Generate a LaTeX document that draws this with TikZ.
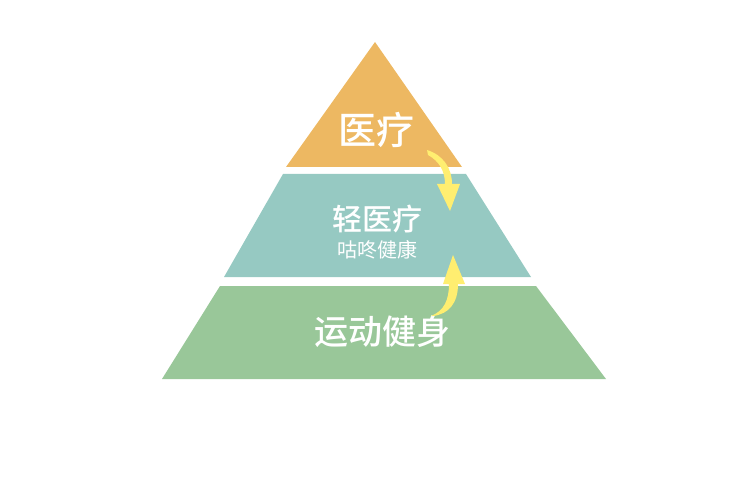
\documentclass[tikz,border=0pt]{standalone}
\usepackage{fontspec}
\usepackage{tikz}
\newfontfamily\cjk{Noto Sans CJK SC}
\newfontfamily\cjkmed{Noto Sans CJK SC Medium}
\definecolor{topcolor}{HTML}{EDB862}
\definecolor{midcolor}{HTML}{96C9C2}
\definecolor{lowcolor}{HTML}{99C799}
\definecolor{arrowcolor}{HTML}{FFEE70}

\begin{document}
\begin{tikzpicture}[x=1pt,y=-1pt,
    label/.style={text=white, inner sep=0pt},
    bend arrow/.style={fill=arrowcolor, draw=none}]
    % Fix the canvas
    \useasboundingbox (0,0) rectangle (750,500);
    % Draw the top layer
    \fill[topcolor] (375,42) -- (462,167) -- (286,167) -- cycle;
    % Draw the middle layer
    \fill[midcolor] (283,174) -- (466,174) -- (531,277) -- (224,277) -- cycle;
    % Draw the bottom layer
    \fill[lowcolor] (220,286) -- (536,286) -- (606,379) -- (162,379) -- cycle;

    % Label the layers
    \node[label, font=\cjkmed\fontsize{38}{42}\selectfont] (top) at (376,130) {医疗};
    \node[label, font=\cjkmed\fontsize{30}{34}\selectfont] (mid) at (377,219) {轻医疗};
    \node[label, font=\cjk\fontsize{20}{22}\selectfont] (sub) at (377,250) {咕咚健康};
    \node[label, font=\cjkmed\fontsize{34}{38}\selectfont] (low) at (382,332) {运动健身};

    % Arrow from the top layer down
    \coordinate (a1) at (450,211);
    \fill[bend arrow] (427,150) .. controls (443,155) and (452,168) .. (452,184)
        -- (460,184) -- (a1) -- (437,184) -- (445,184)
        .. controls (445,171) and (439,161) .. (428,155) -- cycle;
    % Arrow from the bottom layer up
    \coordinate (a2) at (453,255);
    \fill[bend arrow] (431,316) .. controls (444,311) and (449,300) .. (449,284)
        -- (443,284) -- (a2) -- (465,284) -- (458,284)
        .. controls (458,303) and (449,314) .. (433,316) -- cycle;
\end{tikzpicture}
\end{document}
